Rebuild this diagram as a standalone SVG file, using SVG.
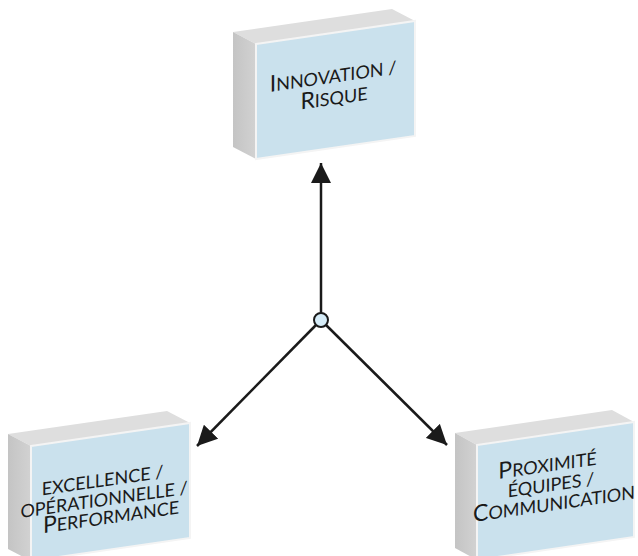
<svg xmlns="http://www.w3.org/2000/svg" width="638" height="556" viewBox="0 0 638 556">
<style>
.front{fill:#cae1ed;stroke:#f4f4f4;stroke-width:2}
.top{fill:#dedede}
.side{fill:url(#sideg)}
.t{font-family:Lato,"Open Sans","Liberation Sans",sans-serif;fill:#1a1a1a;text-anchor:middle;font-size:18px}
.big{font-size:23px}
.conn{stroke:#1a1a1a;stroke-width:2.5;fill:none}
</style>
<defs>
<linearGradient id="sideg" x1="0" y1="0" x2="1" y2="0">
<stop offset="0" stop-color="#c4c4c4"/>
<stop offset="1" stop-color="#d2d2d2"/>
</linearGradient>
<marker id="arr" viewBox="0 0 20 20" refX="20" refY="10" markerWidth="20" markerHeight="20" markerUnits="userSpaceOnUse" orient="auto">
<path d="M0,0 L20,10 L0,20 z" fill="#1a1a1a"/>
</marker>
</defs>
<g id="connectors">
<line class="conn" x1="321" y1="313" x2="321" y2="163" marker-end="url(#arr)"/>
<line class="conn" x1="316" y1="325" x2="197" y2="446" marker-end="url(#arr)"/>
<line class="conn" x1="326" y1="325" x2="447" y2="445" marker-end="url(#arr)"/>
<circle cx="321" cy="320" r="7" fill="#d6ecf8" stroke="#1a1a1a" stroke-width="2"/>
</g>
<g id="innovation">
<polygon class="top" points="233,32 392,9 415,21 256,44"/>
<polygon class="side" points="233,32 256,44 256,159 233,147"/>
<polygon class="front" points="256,44 415,21 415,136 256,159"/>
<g transform="translate(256,44) skewY(-8.25)">
<text class="t" x="77" y="50"><tspan class="big">I</tspan>NNOVATION /</text>
<text class="t" x="78" y="72"><tspan class="big">R</tspan>ISQUE</text>
</g>
</g>
<g id="excellence">
<polygon class="top" points="8,434 167,411 190,423 31,446"/>
<polygon class="side" points="8,434 31,446 31,561 8,549"/>
<polygon class="front" points="31,446 190,423 190,538 31,561"/>
<g transform="translate(31,446) skewY(-8.25)">
<text class="t" x="71.5" y="51">EXCELLENCE /</text>
<text class="t" x="73" y="70.5">OPÉRATIONNELLE /</text>
<text class="t" x="80" y="89"><tspan class="big">P</tspan>ERFORMANCE</text>
</g>
</g>
<g id="proximite">
<polygon class="top" points="455,433 612,410 634,422 477,445"/>
<polygon class="side" points="455,433 477,445 477,560 455,548"/>
<polygon class="front" points="477,445 634,422 634,537 477,560"/>
<g transform="translate(477,445) skewY(-8.25)">
<text class="t" x="70.5" y="37"><tspan class="big">P</tspan>ROXIMITÉ</text>
<text class="t" x="74" y="57">ÉQUIPES /</text>
<text class="t" x="77" y="76.5"><tspan class="big">C</tspan>OMMUNICATION</text>
</g>
</g>
</svg>
